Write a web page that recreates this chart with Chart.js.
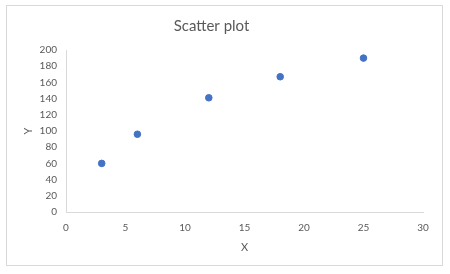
<!DOCTYPE html>
<html>
<head>
<meta charset="utf-8">
<script src="https://cdn.jsdelivr.net/npm/chart.js@4"></script>
<style>
  html, body { margin: 0; padding: 0; background: #fff; }
  #wrap { position: relative; width: 450px; height: 274px; }
  #frame {
    position: absolute; left: 6px; top: 5px; width: 435px; height: 259px;
    border: 1px solid #d9d9d9; pointer-events: none;
  }
  canvas { position: absolute; left: 0; top: 0; }
</style>
</head>
<body>
<div id="wrap">
  <canvas id="chart" width="450" height="274"></canvas>
  <div id="frame"></div>
</div>
<script>
// データ
const xValues = [3, 6, 12, 18, 25];
const yValues = [60, 96, 141, 167, 190];
const xTicks = [0, 5, 10, 15, 20, 25, 30];
const yTicks = [0, 20, 40, 60, 80, 100, 120, 140, 160, 180, 200];

const textColor = '#595959';
const axisColor = '#d9d9d9';
const fontFamily = 'Lato, "Liberation Sans", sans-serif';

const points = xValues.map((x, i) => ({ x: x, y: yValues[i] }));

new Chart(document.getElementById('chart').getContext('2d'), {
    type: 'scatter',
    data: {
        datasets: [{
            label: 'Y',
            data: points,
            backgroundColor: '#4472c4',
            borderColor: '#4472c4',
            pointRadius: 3.3,
            pointHoverRadius: 3.3
        }]
    },
    options: {
        responsive: false,
        animation: false,
        layout: {
            padding: { left: 0, right: 27, top: 0, bottom: 0 }
        },
        plugins: {
            legend: { display: false },
            tooltip: { enabled: false },
            title: {
                display: true,
                text: 'Scatter plot',
                color: textColor,
                font: { family: fontFamily, size: 15, weight: 'normal' },
                padding: { top: 17, bottom: 15 }
            }
        },
        scales: {
            x: {
                type: 'linear',
                min: xTicks[0],
                max: xTicks[xTicks.length - 1],
                grid: { display: false, drawTicks: false },
                border: { display: true, color: axisColor, width: 1 },
                ticks: {
                    stepSize: 5,
                    color: textColor,
                    padding: 10,
                    font: { family: fontFamily, size: 10 }
                },
                title: {
                    display: true,
                    text: 'X',
                    color: textColor,
                    font: { family: fontFamily, size: 11 },
                    padding: { top: 0, bottom: 20 }
                },
                afterFit: scale => { scale.height = 62; }
            },
            y: {
                type: 'linear',
                min: yTicks[0],
                max: yTicks[yTicks.length - 1],
                grid: { display: false, drawTicks: false },
                border: { display: true, color: axisColor, width: 1 },
                ticks: {
                    stepSize: 20,
                    color: textColor,
                    padding: 9,
                    font: { family: fontFamily, size: 10 }
                },
                title: {
                    display: true,
                    text: 'Y',
                    color: textColor,
                    font: { family: fontFamily, size: 11 },
                    padding: { top: 22, bottom: 0 }
                },
                afterFit: scale => { scale.width = 66; }
            }
        }
    }
});
</script>
</body>
</html>
